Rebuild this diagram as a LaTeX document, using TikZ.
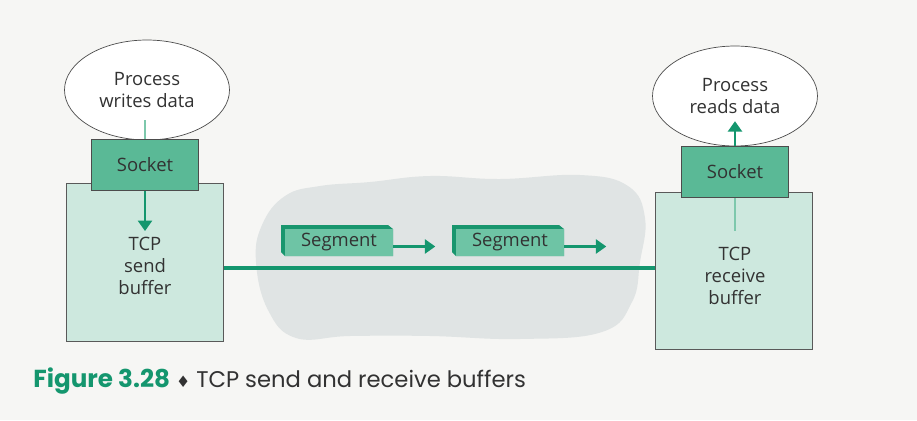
\documentclass[tikz,border=0pt]{standalone}
\usepackage{fontspec}
\setmainfont{Open Sans}
\newfontfamily\capfont{Poppins}
\newfontfamily\symfont{DejaVu Sans}
\usetikzlibrary{shapes.geometric, arrows.meta, calc}

\definecolor{pagebg}{RGB}{246,246,244}
\definecolor{txtgray}{RGB}{50,50,50}
\definecolor{tcpgreen}{RGB}{20,150,110}
\definecolor{stubgreen}{RGB}{125,200,172}
\definecolor{sockgreen}{RGB}{90,185,150}
\definecolor{buflight}{RGB}{205,232,222}
\definecolor{segfront}{RGB}{110,196,165}
\definecolor{segside}{RGB}{25,150,110}
\definecolor{cloudgray}{RGB}{224,228,228}

\tikzset{
  proc/.style={ellipse, draw=black!70, fill=white, minimum width=3.3cm, minimum height=2cm, align=center, text=txtgray},
  sockbox/.style={rectangle, draw=black!70, fill=sockgreen, minimum width=2.14cm, minimum height=1.02cm, text=txtgray},
  bufbox/.style={rectangle, draw=black!65, fill=buflight, minimum width=3.14cm},
  segbox/.style={rectangle, fill=segfront, minimum width=2.16cm, minimum height=0.54cm, inner sep=0pt, text=txtgray},
  feed/.style={line width=1.6pt, draw=stubgreen},
  flow/.style={line width=1.6pt, draw=tcpgreen, -{Triangle[length=6pt,width=8pt]}},
  wire/.style={line width=2.2pt, draw=tcpgreen},
}

\begin{document}
\begin{tikzpicture}[x=0.02cm, y=-0.02cm, font=\fontsize{10.5}{12.5}\selectfont]
  \fill[pagebg] (0,0) rectangle (917,420);
  \useasboundingbox (0,0) rectangle (917,420);

  % network cloud
  \fill[cloudgray] plot[smooth cycle, tension=0.7] coordinates {(262,225) (285,196) (320,186) (370,182) (430,176) (500,179) (580,175) (628,186) (645,218) (640,262) (632,302) (602,332) (520,339) (430,336) (350,336) (296,338) (268,310) (256,262)};

  % processes
  \node[proc] (wrp) at (147,90) {Process\\writes data};
  \node[proc] (rdp) at (735,96) {Process\\reads data};

  % buffers
  \node[bufbox, minimum height=3.16cm] (bufL) at (145,262) {};
  \node[bufbox, minimum height=3.14cm] (bufR) at (734,270.5) {};
  \node[align=center, text=txtgray] (sendtxt) at (145,266) {TCP\\send\\buffer};
  \node[align=center, text=txtgray] (rcvtxt) at (735,276) {TCP\\receive\\buffer};

  % sockets
  \node[sockbox] (sockL) at (145,165) {Socket};
  \node[sockbox] (sockR) at (735,172) {Socket};

  \draw[feed] ($(wrp.south -| sockL.north)+(0,-20)$) -- (sockL.north);
  \draw[flow] (sockL.south) -- (sockL.south |- sendtxt.north);
  \draw[feed] (sockR.south) -- ++(0,33);
  \draw[flow] (sockR.north) -- ++(0,-25);

  % link between the two buffers
  \coordinate (lnk) at (0,268);
  \draw[wire] (bufL.east |- lnk) -- (bufR.west |- lnk);

  % segments in transit
  \foreach \n/\x in {segA/339, segB/510} {
    \fill[segside] (\x-58,225) -- (\x+49,225) -- (\x+54,229) -- (\x+54,256) -- (\x-54,256) -- (\x-58,252) -- cycle;
    \node[segbox] (\n) at (\x,242.5) {Segment};
    \draw[flow] ([yshift=-0.08cm]\n.east) -- ++(42,0);
  }

  % caption
  \node[anchor=base west, inner sep=0pt, font=\capfont\fontsize{12.9}{15}\selectfont, text=txtgray] (cap) at (33,387)
    {\textcolor{tcpgreen}{\fontsize{14}{15}\selectfont\bfseries Figure 3.28} {\symfont\small ♦} TCP send and receive buffers};
\end{tikzpicture}
\end{document}
